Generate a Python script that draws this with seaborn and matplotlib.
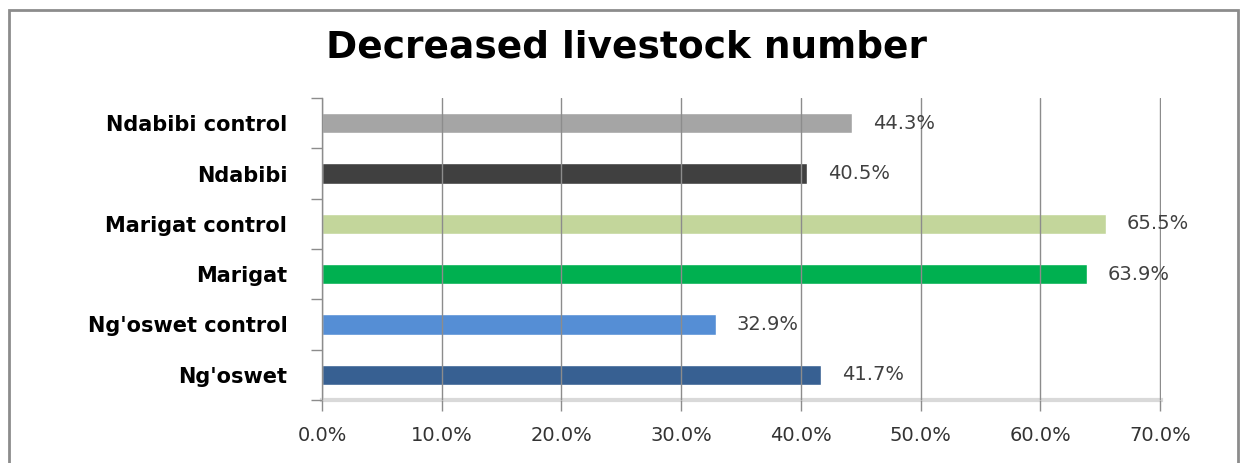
import matplotlib
matplotlib.use("Agg")
import matplotlib.pyplot as plt
import seaborn as sns
import pandas as pd
from matplotlib.patches import Rectangle
from matplotlib.ticker import FuncFormatter, MultipleLocator

categories = ["Ndabibi control", "Ndabibi", "Marigat control", "Marigat",
              "Ng'oswet control", "Ng'oswet"]
values = [44.3, 40.5, 65.5, 63.9, 32.9, 41.7]
colors = ["#A5A5A5", "#404040", "#C3D69B", "#00B050", "#558ED5", "#376092"]
title = "Decreased livestock number"

sns.set_style("white")
plt.rcParams['font.family'] = ['DejaVu Sans']

df = pd.DataFrame({"cat": categories, "val": values})

fig = plt.figure(figsize=(12.43, 4.63), dpi=100)
ax = fig.add_axes([322/1243, 1-400/463, (1161-322)/1243, (400-98)/463])

sns.barplot(data=df, y="cat", x="val", hue="cat", order=categories,
            hue_order=categories, palette=colors, orient="h", width=0.4,
            legend=False, ax=ax, saturation=1)

for c in ax.containers:
    ax.bar_label(c, labels=[f"{v:.1f}%" for v in c.datavalues], padding=15,
                 fontsize=14, color="#404040")

ax.set_xlim(0, 70.08)
ax.set_ylim(5.5, -0.5)
ax.xaxis.set_major_locator(MultipleLocator(10))
ax.xaxis.set_major_formatter(FuncFormatter(lambda v, p: f"{v:.1f}%"))
ax.grid(axis="x", color="#8C8C8C", linewidth=1.0)
ax.grid(axis="y", visible=False)
ax.set_axisbelow(False)
ax.set_xlabel("")
ax.set_ylabel("")

ax.tick_params(axis="x", which="major", bottom=True, length=8, color="#8C8C8C",
               width=1, labelsize=14, labelcolor="#333333", pad=11,
               direction="out")
ax.tick_params(axis="y", which="major", left=False, length=0, pad=25,
               labelsize=15, labelcolor="black")
for lbl in ax.get_yticklabels():
    lbl.set_fontweight("bold")
ax.set_yticks([i - 0.5 for i in range(len(categories) + 1)], minor=True)
ax.tick_params(axis="y", which="minor", left=True, length=8, color="#8C8C8C",
               width=1, direction="out")

for s in ["top", "right"]:
    ax.spines[s].set_visible(False)
ax.spines["left"].set_color("#8C8C8C")
ax.spines["left"].set_linewidth(1)
ax.spines["bottom"].set_color("#D9D9D9")
ax.spines["bottom"].set_linewidth(3)

fig.text(627/1243, 1-48/463, title, ha="center", va="center",
         fontsize=27, fontweight="bold", color="black")

border = Rectangle((9/1243, -0.05), (1238-9)/1243, 1.05-10/463,
                   transform=fig.transFigure, fill=False,
                   edgecolor="#8C8C8C", linewidth=2)
fig.patches.append(border)

fig.savefig("out.png", dpi=100)
